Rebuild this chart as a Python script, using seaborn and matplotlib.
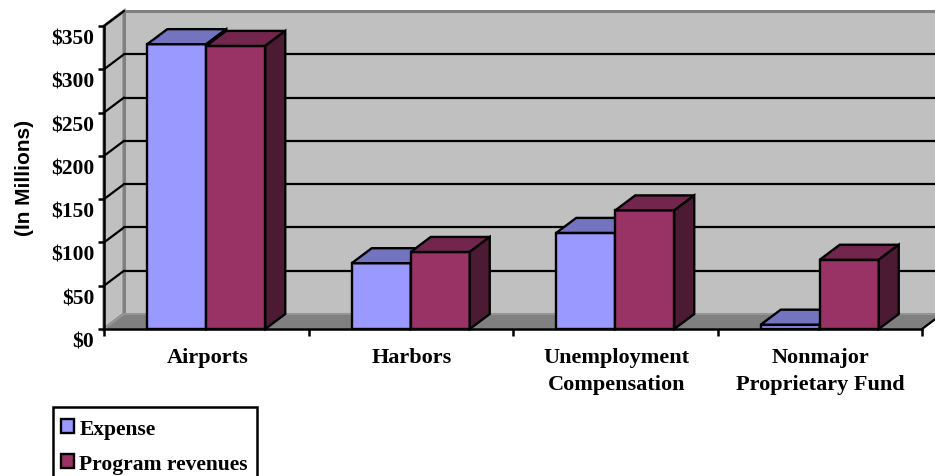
import pandas as pd
import matplotlib
matplotlib.use("Agg")
import matplotlib.pyplot as plt
from matplotlib.patches import Polygon, Rectangle
from matplotlib.transforms import ScaledTranslation
import seaborn as sns

categories = ["Airports", "Harbors", "Unemployment\nCompensation", "Nonmajor\nProprietary Fund"]
expense = [329, 76, 111, 5]
revenues = [327, 89, 137, 80]
series_names = ["Expense", "Program revenues"]
y_ticks = [0, 50, 100, 150, 200, 250, 300, 350]
y_tick_labels = ["$0", "$50", "$100", "$150", "$200", "$250", "$300", "$350"]

front = ["#9999FF", "#993366"]
top = ["#7373BF", "#73264D"]
side = ["#4D4D80", "#4D1A33"]

df = pd.DataFrame({
    "category": categories * 2,
    "series": [series_names[0]] * 4 + [series_names[1]] * 4,
    "value": expense + revenues,
})

W, H = 935, 477
sns.set_theme(style="white")
plt.rcParams["font.family"] = ["Liberation Serif", "DejaVu Serif"]
plt.rcParams["font.weight"] = "bold"
plt.rcParams["text.parse_math"] = False

fig = plt.figure(figsize=(W / 100, H / 100), dpi=100)
# axes is the front plane of the fake 3D box
ax = fig.add_axes([104 / W, 1 - 330 / H, 818 / W, 303 / H])

sns.barplot(data=df, x="category", y="value", hue="series", order=categories,
            hue_order=series_names, palette=front, saturation=1, width=0.577,
            gap=0, edgecolor="black", linewidth=1.7, ax=ax)
ax.set_xlim(-0.5, 3.5)
ax.set_ylim(0, 350)

# depth of the box: 20px right, 15px up, in data units
dx = 20 * 4 / 818
dy = 15 * 350 / 303
x0, x1, y1 = -0.5, 3.5, 350

def poly(pts, fc, ec, lw, z):
    ax.add_patch(Polygon(pts, closed=True, facecolor=fc, edgecolor=ec, linewidth=lw,
                         zorder=z, clip_on=False, joinstyle="miter"))

# walls and floor
poly([(x0 + dx, dy), (x1 + dx, dy), (x1 + dx, y1 + dy), (x0 + dx, y1 + dy)], "#C0C0C0", "#808080", 2.2, 0.1)
poly([(x0, 0), (x0 + dx, dy), (x0 + dx, y1 + dy), (x0, y1)], "#C0C0C0", "#808080", 2.2, 0.1)
poly([(x0, 0), (x1, 0), (x1 + dx, dy), (x0 + dx, dy)], "#808080", "#999999", 1.2, 0.2)

# grid on back and left walls
for v in y_ticks[1:]:
    if v < 350:
        ax.plot([x0 + dx, x1 + dx], [v + dy, v + dy], color="black", lw=1.6, zorder=0.3, clip_on=False)
    ax.plot([x0, x0 + dx], [v, v + dy], color="black", lw=1.6, zorder=0.3, clip_on=False)
ax.plot([x1, x1 + dx], [0, dy], color="black", lw=1.6, zorder=0.3, clip_on=False)

# tops and sides of the bars
for i, container in enumerate(ax.containers):
    for bar in container:
        bx0, bx1, h = bar.get_x(), bar.get_x() + bar.get_width(), bar.get_height()
        bar.set_zorder(3 + i)
        bar.set_clip_on(False)
        poly([(bx0, h), (bx1, h), (bx1 + dx, h + dy), (bx0 + dx, h + dy)], top[i], "black", 1.7, 3 + i)
        poly([(bx1, 0), (bx1 + dx, dy), (bx1 + dx, h + dy), (bx1, h)], side[i], "black", 1.7, 3 + i)

for s in ["top", "right"]:
    ax.spines[s].set_visible(False)
for s in ["left", "bottom"]:
    ax.spines[s].set_color("black")
    ax.spines[s].set_linewidth(1.8)
    ax.spines[s].set_zorder(8)

ax.set_yticks(y_ticks)
ax.set_yticklabels(y_tick_labels, fontsize=15.5, fontweight="bold", color="black")
ax.tick_params(axis="y", length=4.5, width=1.8, color="black", pad=2.5, left=True)

ax.set_xticks(range(4))
ax.set_xticklabels(categories, fontsize=16, fontweight="bold", color="black", linespacing=1.45)
ax.set_xticks([-0.5, 0.5, 1.5, 2.5, 3.5], minor=True)
ax.tick_params(axis="x", which="major", length=0, pad=13)
ax.tick_params(axis="x", which="minor", length=5, width=1.8, color="black", bottom=True)
ax.set_xlabel("")
ax.set_ylabel("")

# tick labels sit a little off their ticks in the original
for label in ax.get_yticklabels():
    label.set_verticalalignment("top")
    label.set_transform(label.get_transform() + ScaledTranslation(0, -2.5 / 100, fig.dpi_scale_trans))
for label in ax.get_xticklabels():
    label.set_transform(label.get_transform() + ScaledTranslation(1 / 100, 0, fig.dpi_scale_trans))

fig.text(24 / W, 1 - 178 / H, "(In Millions)", rotation=90, ha="center", va="center",
         fontsize=15, fontweight="bold", family="Liberation Sans", color="black")

# legend box runs off the bottom of the picture
fig.add_artist(Rectangle((53 / W, 1 - 482 / H), 204 / W, 74 / H, transform=fig.transFigure,
                         facecolor="white", edgecolor="black", linewidth=1.8, zorder=4))
handles, labels = ax.get_legend_handles_labels()
ax.get_legend().remove()
leg = fig.legend(handles, labels, loc="upper left", bbox_to_anchor=(60.5 / W, 1 - 420 / H),
                 bbox_transform=fig.transFigure, frameon=False,
                 borderaxespad=0, borderpad=0, handlelength=0.62, handleheight=0.62,
                 handletextpad=0.25, labelspacing=0.68, labelcolor="black",
                 prop={"size": 15.5, "weight": "bold"})
leg.set_zorder(5)

fig.savefig("out.png", dpi=100)
